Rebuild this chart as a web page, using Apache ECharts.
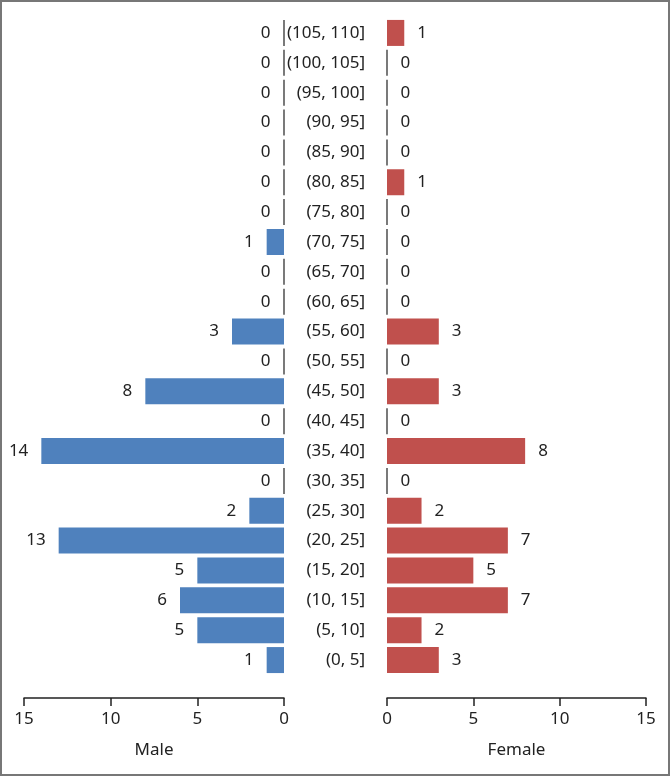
<!DOCTYPE html>
<html><head><meta charset="utf-8">
<script src="https://cdn.jsdelivr.net/npm/echarts@6/dist/echarts.min.js"></script>
<style>html,body{margin:0;padding:0;background:#fff}#c{width:670px;height:776px}</style>
</head><body><div id="c"></div>
<script>
const categories = ['(0, 5]','(5, 10]','(10, 15]','(15, 20]','(20, 25]','(25, 30]','(30, 35]','(35, 40]','(40, 45]','(45, 50]','(50, 55]','(55, 60]','(60, 65]','(65, 70]','(70, 75]','(75, 80]','(80, 85]','(85, 90]','(90, 95]','(95, 100]','(100, 105]','(105, 110]'];
const maleValues = [1,5,6,5,13,2,0,14,0,8,0,3,0,0,1,0,0,0,0,0,0,0];
const femaleValues = [3,2,7,5,7,2,0,8,0,3,0,3,0,0,0,0,1,0,0,0,0,1];
const xTicks = [0,5,10,15];

const FONT = 'Noto Sans';
const TXT = '#222';
function mkData(vals){
  return vals.map(v => v === 0
    ? {value:v, itemStyle:{borderColor:'#222', borderWidth:1.2}}
    : {value:v});
}
const chart = echarts.init(document.getElementById('c'), null, {renderer:'canvas'});
const xCommon = {
  type:'value', min:0, max:15, interval:5, offset:23,
  axisLine:{show:true, onZero:false, lineStyle:{color:'#222', width:1.5}},
  axisTick:{show:true, length:8, lineStyle:{color:'#222', width:1.5}},
  axisLabel:{color:TXT, fontFamily:FONT, fontSize:17, margin:13},
  splitLine:{show:false},
  nameLocation:'middle', nameGap:44,
  nameTextStyle:{color:TXT, fontFamily:FONT, fontSize:17}
};
chart.setOption({
  animation:false,
  grid:[
    {left:24, width:260, top:18, height:657},
    {left:387, width:259, top:18, height:657}
  ],
  xAxis:[
    Object.assign({}, xCommon, {gridIndex:0, inverse:true, name:'Male'}),
    Object.assign({}, xCommon, {gridIndex:1, name:'Female'})
  ],
  yAxis:[
    {type:'category', gridIndex:0, data:categories, show:false},
    {type:'category', gridIndex:1, data:categories, position:'left',
     axisLine:{show:false}, axisTick:{show:false},
     axisLabel:{color:TXT, fontFamily:FONT, fontSize:17, margin:22, align:'right'}}
  ],
  series:[
    {type:'bar', xAxisIndex:0, yAxisIndex:0, data:mkData(maleValues), barWidth:26,
     itemStyle:{color:'#4F81BD'},
     label:{show:true, position:'left', distance:13, color:TXT, fontFamily:FONT, fontSize:17}},
    {type:'bar', xAxisIndex:1, yAxisIndex:1, data:mkData(femaleValues), barWidth:26,
     itemStyle:{color:'#C0504D'},
     label:{show:true, position:'right', distance:13, color:TXT, fontFamily:FONT, fontSize:17}}
  ],
  graphic:[{type:'rect', shape:{x:1, y:1, width:668, height:774}, style:{fill:null, stroke:'#777', lineWidth:2}, silent:true}]
});
</script></body></html>
